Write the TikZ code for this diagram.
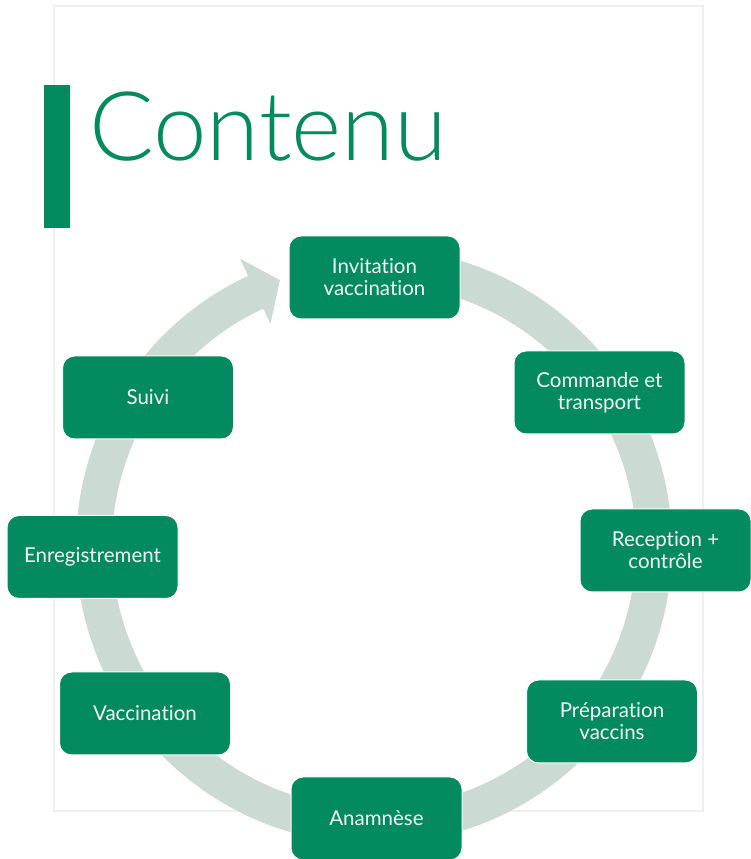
\documentclass[tikz,border=0pt]{standalone}
\usepackage{fontspec}
\setmainfont{Lato}[Ligatures=NoCommon]
\newfontfamily\titlefont{Lato Light}
\usepackage{tikz}
\usetikzlibrary{calc}
\definecolor{vert}{HTML}{038A5E}
\definecolor{bande}{HTML}{CBDAD3}
\definecolor{cadre}{HTML}{EFEFEF}
\definecolor{blanc}{HTML}{F4FAF7}

\begin{document}
\begin{tikzpicture}[x=1pt,y=1pt,
  etape/.style={draw=white, line width=1pt, fill=vert, rounded corners=12pt,
    minimum width=171pt, minimum height=83pt, align=center, text=blanc,
    font=\fontsize{20.5}{22}\selectfont}]
\useasboundingbox (0,0) rectangle (750,859);
\draw[cadre, line width=2.5pt] (54,853) rectangle (703,48);
\fill[vert] (44,774) rectangle (70,631);
\node[anchor=base west, inner sep=0pt, text=vert, font=\titlefont\fontsize{96}{96}\selectfont] (T) at (89,698) {Contenu};
\coordinate (C) at (374,313);
\fill[bande] ($(C)+(90:298)$) arc[start angle=90, end angle=-245, radius=298]
  -- ($(C)+(-245:317)$) -- ($(C)+(-250.5:282)$) -- ($(C)+(-245:245)$)
  -- ($(C)+(-245:262)$) arc[start angle=-245, end angle=90, radius=262] -- cycle;
\node[etape] (S0) at (374.5,581.5) {Invitation\\vaccination};
\node[etape] (S1) at (599.5,466.5) {Commande et\\transport};
\node[etape] (S2) at (665.5,308.5) {Reception +\\contrôle};
\node[etape] (S3) at (612,137.5) {Préparation\\vaccins};
\node[etape] (S4) at (376.5,40.5) {Anamnèse};
\node[etape] (S5) at (145,145.5) {Vaccination};
\node[etape] (S6) at (92.5,302) {Enregistrement};
\node[etape] (S7) at (148,461.5) {Suivi};
\end{tikzpicture}
\end{document}
